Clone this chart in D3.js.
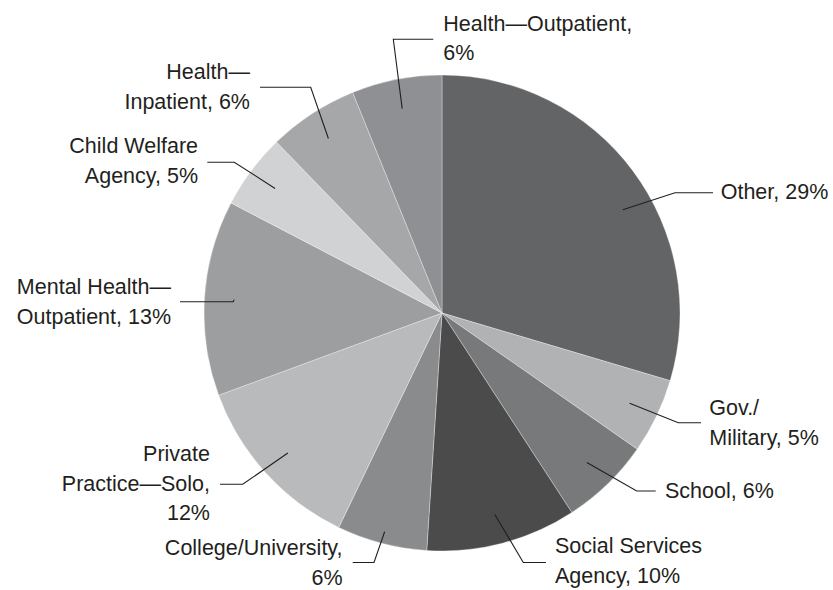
<!DOCTYPE html>
<html>
<head>
<meta charset="utf-8">
<script src="https://cdn.jsdelivr.net/npm/d3@7"></script>
<style>
  html, body { margin: 0; padding: 0; background: #ffffff; }
  svg { display: block; }
  text { font-family: "Liberation Sans", Arial, Helvetica, sans-serif; }
</style>
</head>
<body>
<svg id="chart" width="833" height="590"></svg>
<script>
// Practice settings, clockwise from 12 o'clock
const categories = [
  "Other", "Gov./Military", "School", "Social Services Agency",
  "College/University", "Private Practice—Solo", "Mental Health—Outpatient",
  "Child Welfare Agency", "Health—Inpatient", "Health—Outpatient"
];
const values = [29, 5, 6, 10, 6, 12, 13, 5, 6, 6];
const sliceColors = [
  "#636466", "#b1b2b4", "#78797b", "#4b4b4b", "#8a8b8d",
  "#b8babc", "#9d9ea0", "#d1d2d4", "#a5a7a9", "#8f9093"
];
// Label text lines; "{v}" is replaced by the slice value
const labelLines = [
  ["Other, {v}%"],
  ["Gov./", "Military, {v}%"],
  ["School, {v}%"],
  ["Social Services", "Agency, {v}%"],
  ["College/University,", "{v}%"],
  ["Private", "Practice—Solo,", "{v}%"],
  ["Mental Health—", "Outpatient, {v}%"],
  ["Child Welfare", "Agency, {v}%"],
  ["Health—", "Inpatient, {v}%"],
  ["Health—Outpatient,", "{v}%"]
];

// Label placement: text anchor point, leader line row, elbow, and tweaks for the inner end
const labelLayout = [
  { x: 720.7, y: 199.3, anchor: "start", lineY: 192.7, x1: 713.0, elbowX: 675.0, da: 7,  rf: 0.875 },
  { x: 709.3, y: 415.0, anchor: "start", lineY: 422.7, x1: 701.0, elbowX: 678.3, da: 0,  rf: 0.875 },
  { x: 665.0, y: 498.3, anchor: "start", lineY: 491.0, x1: 655.7, elbowX: 636.7, da: 0,  rf: 0.875 },
  { x: 555.0, y: 553.0, anchor: "start", lineY: 562.5, x1: 546.0, elbowX: 523.3, da: 0,  rf: 0.875 },
  { x: 342.5, y: 555.0, anchor: "end",   lineY: 562.5, x1: 352.7, elbowX: 374.0, da: 0,  rf: 0.95  },
  { x: 210.0, y: 461.0, anchor: "end",   lineY: 484.3, x1: 220.0, elbowX: 242.7, da: 0,  rf: 0.875 },
  { x: 171.0, y: 294.3, anchor: "end",   lineY: 301.7, x1: 180.0, elbowX: 233.3, da: 0,  rf: 0.875 },
  { x: 198.0, y: 153.3, anchor: "end",   lineY: 162.3, x1: 207.3, elbowX: 234.3, da: 0,  rf: 0.875 },
  { x: 250.0, y: 79.3,  anchor: "end",   lineY: 87.3,  x1: 260.0, elbowX: 310.7, da: 0,  rf: 0.875 },
  { x: 443.3, y: 30.5,  anchor: "start", lineY: 39.3,  x1: 433.3, elbowX: 393.3, da: 0,  rf: 0.875 }
];

const cx = 442, cy = 313, radius = 238;
const lineGap = 29.6;
const fontSize = 21.5;
const ink = "#231f20";

const data = categories.map((name, i) => ({ name, value: values[i], i }));

const pie = d3.pie().sort(null).value(d => d.value);
const arcs = pie(data);
const arc = d3.arc().innerRadius(0).outerRadius(radius);

const svg = d3.select("#chart");
const g = svg.append("g").attr("transform", `translate(${cx},${cy})`);

// Slices
g.selectAll("path.slice")
  .data(arcs)
  .join("path")
  .attr("class", "slice")
  .attr("d", arc)
  .attr("fill", d => sliceColors[d.data.i])
  .attr("stroke", "#ffffff")
  .attr("stroke-opacity", 0.55)
  .attr("stroke-width", 0.6);

// Leader lines: slice interior -> elbow -> along the label
const leaders = svg.append("g")
  .attr("fill", "none")
  .attr("stroke", ink)
  .attr("stroke-width", 1.1);

arcs.forEach(a => {
  const L = labelLayout[a.data.i];
  const mid = (a.startAngle + a.endAngle) / 2 + L.da * Math.PI / 180;
  const r = radius * L.rf;
  const px = cx + r * Math.sin(mid);
  const py = cy - r * Math.cos(mid);
  const pts = [[px, py], [L.elbowX, L.lineY], [L.x1, L.lineY]];
  leaders.append("path").attr("d", d3.line()(pts));
});

// Labels
const labels = svg.append("g")
  .attr("fill", ink)
  .attr("font-size", fontSize);

arcs.forEach(a => {
  const i = a.data.i;
  const L = labelLayout[i];
  const t = labels.append("text")
    .attr("text-anchor", L.anchor)
    .attr("x", L.x)
    .attr("y", L.y);
  labelLines[i].forEach((ln, k) => {
    t.append("tspan")
      .attr("x", L.x)
      .attr("y", L.y + k * lineGap)
      .text(ln.replace("{v}", a.data.value));
  });
});
</script>
</body>
</html>
